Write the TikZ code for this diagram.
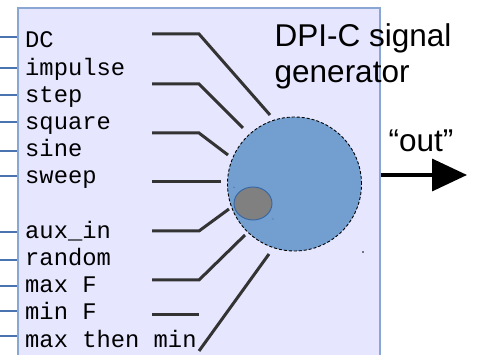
\documentclass[tikz,border=0pt]{standalone}
\usepackage{fontspec}
\setmainfont{Liberation Sans}
\newfontfamily\labelfont{Liberation Mono}
\usetikzlibrary{arrows.meta,shapes.geometric}

\definecolor{panelfill}{HTML}{E6E6FF}
\definecolor{panelline}{HTML}{8AA6D2}
\definecolor{portline}{HTML}{4A74B0}
\definecolor{genfill}{HTML}{729FCF}
\definecolor{genline}{HTML}{3465A4}
\definecolor{wirecol}{HTML}{333333}

\tikzset{
  panel/.style={fill=panelfill, draw=panelline, line width=2pt},
  port/.style={draw=portline, line width=1.1pt},
  sig/.style={anchor=base west, inner sep=0pt, font=\labelfont\fontsize{23.8}{27}\selectfont},
  title/.style={anchor=base west, inner sep=0pt, font=\fontsize{31.5}{36}\selectfont},
  wire/.style={draw=wirecol, line width=3pt},
  gencircle/.style={circle, fill=genfill, draw=black, line width=0.9pt,
    dash pattern=on 3pt off 2pt, minimum size=134pt, inner sep=0pt},
  knob/.style={ellipse, fill=gray, draw=genline, line width=0.9pt,
    minimum width=38pt, minimum height=33pt, inner sep=0pt},
  outarrow/.style={draw=black, line width=3.5pt, -{Triangle[length=35pt,width=32pt]}},
}

\begin{document}
\begin{tikzpicture}[x=1pt, y=-1pt]
  \useasboundingbox (0,0) rectangle (477,355);
  \clip (0,0) rectangle (477,355);

  % port stubs on the left edge of the block
  \foreach \y in {37,68,95,122,151,176,232,260,286,311,336}
    \draw[port] (0,\y) -- (18,\y);

  % the generator block
  \path[panel] (18,8) rectangle (380,370);

  % signal names
  \node[sig] (dc)      at (25,48.0)  {DC};
  \node[sig] (impulse) at (25,75.2)  {impulse};
  \node[sig] (stepsig) at (25,102.4) {step};
  \node[sig] (square)  at (25,129.6) {square};
  \node[sig] (sine)    at (25,156.8) {sine};
  \node[sig] (sweep)   at (25,184.0) {sweep};
  \node[sig] (auxin)   at (25,238.4) {aux\_in};
  \node[sig] (random)  at (25,265.6) {random};
  \node[sig] (maxf)    at (25,292.8) {max F};
  \node[sig] (minf)    at (25,320.0) {min F};
  \node[sig] (maxmin)  at (25,347.2) {max then min};

  % wire start, bend and end points
  \coordinate (w1a) at (152,34);  \coordinate (w1b) at (199,34);  \coordinate (w1c) at (270,115);
  \coordinate (w2a) at (152,84);  \coordinate (w2b) at (199,84);  \coordinate (w2c) at (243,128);
  \coordinate (w3a) at (152,133); \coordinate (w3b) at (199,133); \coordinate (w3c) at (228,155);
  \coordinate (w4a) at (152,182); \coordinate (w4c) at (221,182);
  \coordinate (w5a) at (152,231); \coordinate (w5b) at (199,231); \coordinate (w5c) at (229,209);
  \coordinate (w6a) at (152,280); \coordinate (w6b) at (199,280); \coordinate (w6c) at (245,235);
  \coordinate (w7a) at (152,315); \coordinate (w7b) at (199,315);
  \coordinate (w8a) at (199,351); \coordinate (w8c) at (269,254);

  \draw[wire] (w1a) -- (w1b) -- (w1c);
  \draw[wire] (w2a) -- (w2b) -- (w2c);
  \draw[wire] (w3a) -- (w3b) -- (w3c);
  \draw[wire] (w4a) -- (w4c);
  \draw[wire] (w5a) -- (w5b) -- (w5c);
  \draw[wire] (w6a) -- (w6b) -- (w6c);
  \draw[wire] (w7a) -- (w7b);
  \draw[wire] (w8a) -- (w8c);

  % generator body and its knob
  \node[gencircle] (gen) at (294.5,184) {};
  \node[knob] (knob) at (253,203.5) {};
  \fill[genline] (234,187.3) circle (0.6);
  \fill[genline] (273,219) circle (0.6);
  \fill[black] (363,252) circle (0.8);

  % title
  \node[title] (title1) at (274.5,47) {DPI-C signal};
  \node[title] (title2) at (274.5,83) {generator};

  % output
  \coordinate (outstart) at (381,175);
  \coordinate (outend) at (467,175);
  \draw[outarrow] (outstart) -- (outend);
  \node[title] (outlabel) at (388.5,152) {“out”};
\end{tikzpicture}
\end{document}
